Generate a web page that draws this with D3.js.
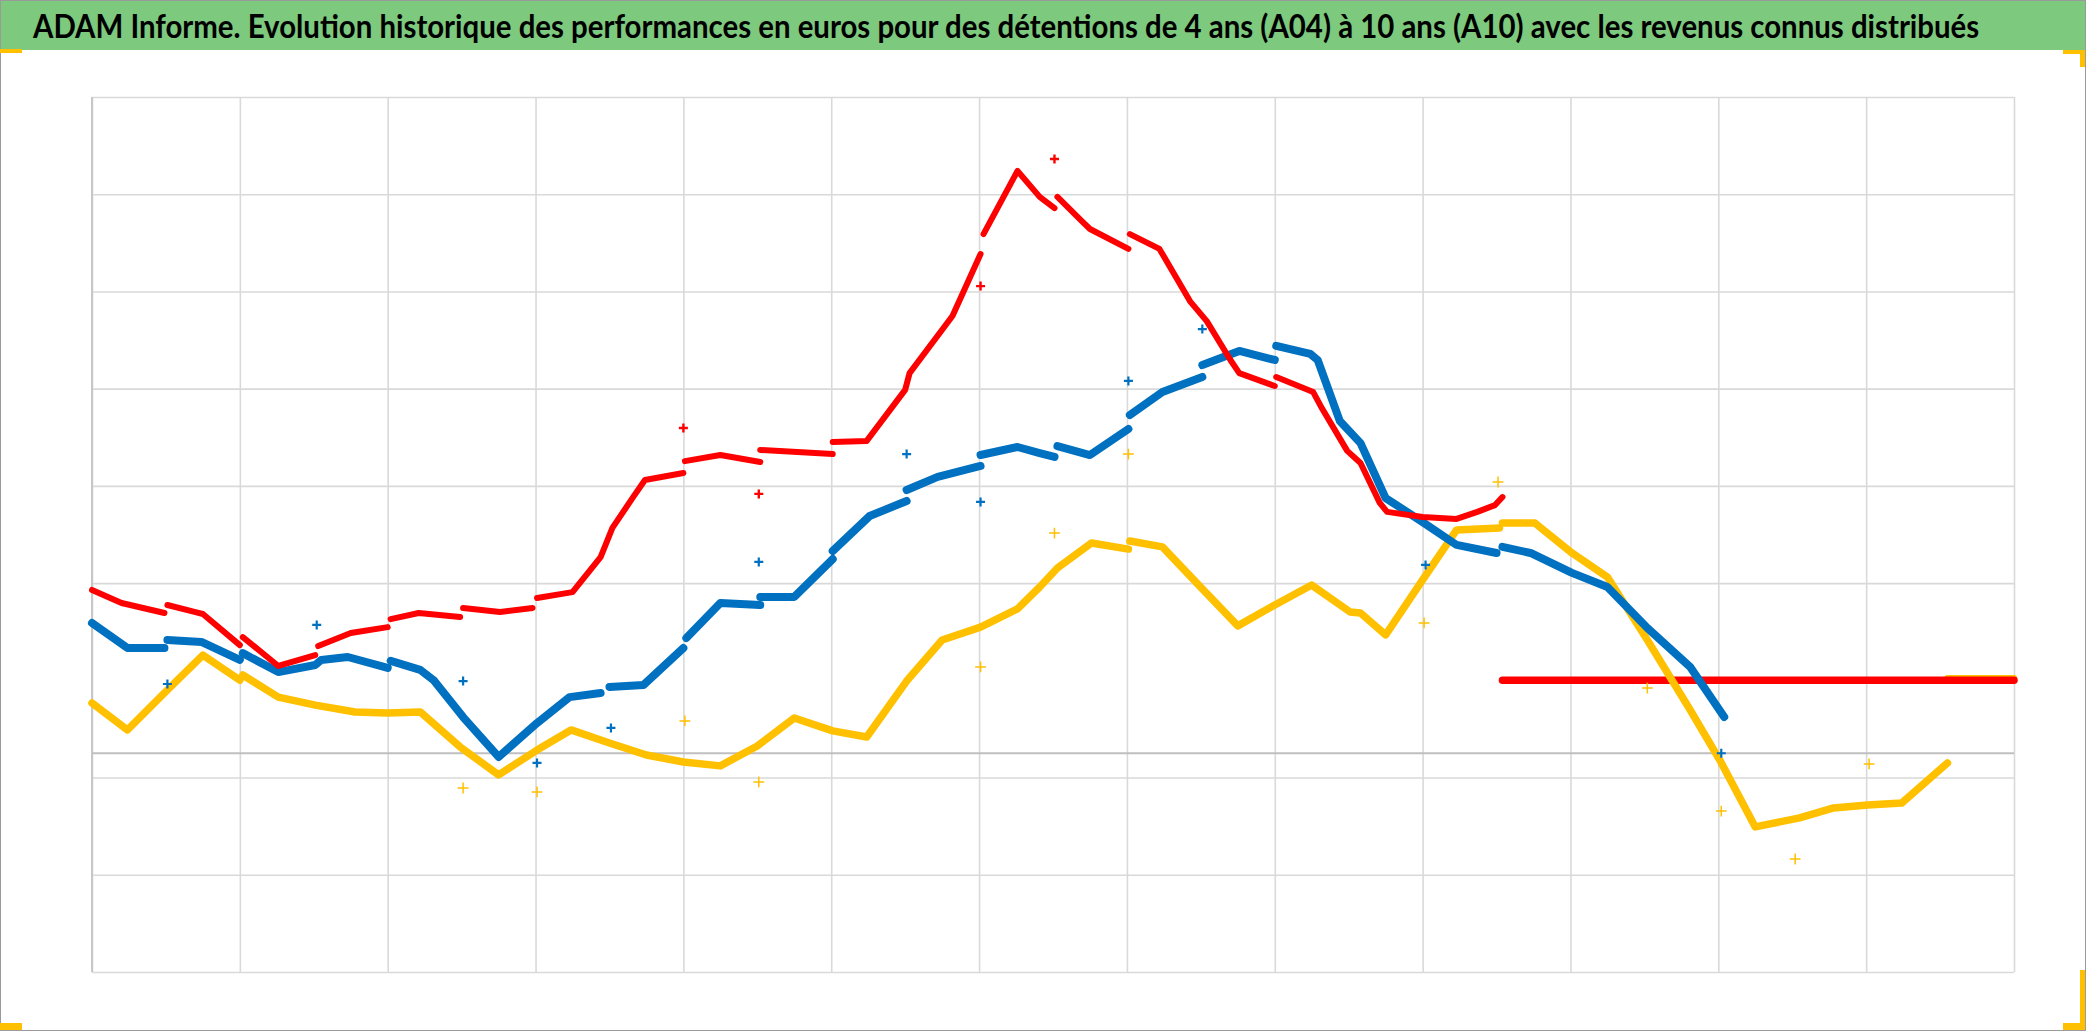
<!DOCTYPE html>
<html><head><meta charset="utf-8">
<script src="https://cdn.jsdelivr.net/npm/d3@7"></script>
<style>html,body{margin:0;padding:0;background:#fff;overflow:hidden}</style>
</head><body><svg id="c" width="2086" height="1031"></svg>
<script>
const titleText = "ADAM Informe. Evolution historique des performances en euros pour des détentions de 4 ans (A04) à 10 ans (A10) avec les revenus connus distribués";

const xGrid = [0,1,2,3,4,5,6,7,8,9,10,11,12,13];
const yGrid = [2700,2300,1900,1500,1100,700,-100,-500,-900];

// A10 (red) segments [x, value]
const redSegments = [
  [[0,672],[0.20,618],[0.49,577]],
  [[0.51,610],[0.70,581],[0.75,573],[1.00,445]],
  [[1.02,478],[1.26,359],[1.51,404]],
  [[1.53,441],[1.75,495],[2.00,519]],
  [[2.02,552],[2.21,577],[2.49,561]],
  [[2.51,598],[2.76,581],[2.98,598]],
  [[3.01,639],[3.25,663],[3.44,807],[3.52,927],[3.66,1054],[3.74,1124],[4.00,1153]],
  [[4.01,1202],[4.25,1227],[4.52,1198]],
  [[4.52,1248],[5.01,1231]],
  [[5.01,1281],[5.24,1285],[5.50,1495],[5.53,1564],[5.82,1799],[6.01,2054]],
  [[6.03,2136],[6.26,2396],[6.41,2289],[6.51,2243]],
  [[6.53,2289],[6.70,2186],[6.75,2157],[7.01,2075]],
  [[7.02,2136],[7.22,2075],[7.43,1857],[7.54,1778],[7.70,1618],[7.76,1564],[8.00,1511]],
  [[8.01,1548],[8.26,1486],[8.31,1429],[8.49,1244],[8.58,1194],[8.71,1030],[8.76,993],[9.00,972],[9.23,964],[9.37,993],[9.49,1021],[9.54,1054]]
];
const redFlat = [[9.54,300],[13,300]];
const redOutliers = [[4.00,1338],[4.51,1067],[6.01,1922],[6.51,2445]];

// A07 (blue) segments
const blueSegments = [
  [[0,536],[0.24,433],[0.49,433]],
  [[0.51,466],[0.74,458],[1.00,384]],
  [[1.02,412],[1.26,334],[1.51,363],[1.55,384],[1.73,396],[2.00,351]],
  [[2.02,380],[2.22,343],[2.31,301],[2.51,149],[2.75,-15],[3.01,124],[3.23,231],[3.44,248]],
  [[3.50,273],[3.73,281],[4.00,433]],
  [[4.02,474],[4.25,618],[4.52,610]],
  [[4.52,643],[4.75,643],[5.01,799]],
  [[5.01,832],[5.26,976],[5.51,1038]],
  [[5.51,1083],[5.72,1137],[6.01,1182]],
  [[6.01,1227],[6.26,1260],[6.41,1235],[6.51,1219]],
  [[6.53,1264],[6.75,1227],[7.01,1334]],
  [[7.02,1392],[7.24,1486],[7.51,1548]],
  [[7.51,1597],[7.76,1655],[8.00,1618]],
  [[8.01,1676],[8.24,1643],[8.29,1618],[8.44,1367],[8.58,1276],[8.75,1050],[9.00,951],[9.23,857],[9.50,824]],
  [[9.54,849],[9.73,824],[10.01,742],[10.25,684],[10.52,515],[10.81,355],[11.04,149]]
];
const blueFlat = [[9.54,300],[13,300]];
const blueOutliers = [[0.51,285],[1.52,528],[2.51,297],[3.01,-40],[3.51,104],[4.51,787],[5.51,1231],[6.01,1034],[7.01,1532],[7.51,1745],[9.02,775],[11.02,0]];

// A04 (yellow) segments
const yellowSegments = [
  [[0,207],[0.24,96],[0.49,248],[0.75,404],[1.00,301]],
  [[1.02,322],[1.26,231],[1.51,198],[1.78,170],[2.00,166],[2.22,170],[2.49,26],[2.75,-89],[3.01,13],[3.24,96],[3.50,42],[3.75,-7],[4.00,-36],[4.25,-52],[4.50,30],[4.75,145],[5.01,92],[5.24,67],[5.51,297],[5.75,466],[6.01,519],[6.26,594],[6.41,684],[6.53,762],[6.76,865],[7.01,840]],
  [[7.02,873],[7.24,849],[7.51,676],[7.75,524],[8.00,610],[8.25,692],[8.51,581],[8.58,577],[8.75,487],[9.00,713],[9.23,919],[9.52,927]],
  [[9.54,947],[9.76,947],[10.01,824],[10.25,725],[10.52,466],[10.81,178],[11.01,-28],[11.25,-303],[11.55,-266],[11.78,-225],[12.01,-213],[12.24,-205],[12.55,-40]]
];
const yellowFlat = [[12.55,309],[13,309]];
const yellowOutliers = [[2.51,-143],[3.01,-159],[4.01,133],[4.51,-118],[6.01,355],[6.51,906],[7.01,1231],[9.01,536],[9.51,1116],[10.52,268],[11.02,-238],[11.52,-435],[12.02,-44]];

const W = 2086, H = 1031;
const plot = {left: 92, right: 2014, top: 97, bottom: 972};
const svg = d3.select("#c");

svg.append("rect").attr("width", W).attr("height", H).attr("fill", "#fff");

const x = d3.scaleLinear().domain([0, 13]).range([plot.left, plot.right]);
const y = d3.scaleLinear().domain([-900, 2700]).range([plot.bottom, plot.top]);

// gridlines
const gx = svg.append("g").attr("transform", `translate(0,${plot.bottom})`)
  .call(d3.axisBottom(x).tickValues(xGrid).tickSize(-(plot.bottom - plot.top)).tickFormat(""));
gx.select(".domain").remove();
gx.selectAll("line").attr("stroke", "#d9d9d9").attr("stroke-width", 1.6);

const gy = svg.append("g").attr("transform", `translate(${plot.left},0)`)
  .call(d3.axisLeft(y).tickValues(yGrid).tickSize(-(plot.right - plot.left)).tickFormat(""));
gy.select(".domain").remove();
gy.selectAll("line").attr("stroke", "#d9d9d9").attr("stroke-width", 1.6);

// left axis
svg.append("line").attr("x1", x(0)).attr("x2", x(0)).attr("y1", plot.top).attr("y2", plot.bottom)
  .attr("stroke", "#c4c4c4").attr("stroke-width", 1.8);
// zero axis
svg.append("line").attr("x1", x(0)).attr("x2", x(13)).attr("y1", y(0)).attr("y2", y(0))
  .attr("stroke", "#bfbfbf").attr("stroke-width", 1.8);

const line = d3.line().x(d => x(d[0])).y(d => y(d[1]));
const plus = "M-4.5,0H4.5M0,-4.5V4.5";

function drawSeries(segs, color, width) {
  svg.append("g").selectAll("path").data(segs).join("path")
    .attr("d", line).attr("fill", "none").attr("stroke", color)
    .attr("stroke-width", width).attr("stroke-linejoin", "round").attr("stroke-linecap", "round");
}
function drawOutliers(pts, color, sw, size) {
  svg.append("g").selectAll("path").data(pts).join("path")
    .attr("transform", d => `translate(${x(d[0])},${y(d[1])}) scale(${size})`)
    .attr("d", plus).attr("fill", "none").attr("stroke", color).attr("stroke-width", sw / size);
}

const RED = "#ff0000", BLUE = "#0070c0", YEL = "#ffc000";

drawSeries([yellowFlat], YEL, 6.5);
drawSeries([blueFlat], BLUE, 6);
drawSeries([redFlat], RED, 7.5);

drawSeries(yellowSegments, YEL, 7.5);
drawOutliers(yellowOutliers, YEL, 1.5, 1.2);
drawSeries(blueSegments, BLUE, 8);
drawOutliers(blueOutliers, BLUE, 2.2, 1);
drawSeries(redSegments, RED, 6);
drawOutliers(redOutliers, RED, 2.4, 1);

// title bar
svg.append("rect").attr("x", 0).attr("y", 0).attr("width", W).attr("height", 50).attr("fill", "#7dc97e");
const title = svg.append("text").attr("x", 0).attr("y", 0)
  .attr("font-family", "Lato, 'Open Sans', sans-serif").attr("font-weight", 700)
  .attr("font-size", 32).attr("fill", "#000")
  .text(titleText);
const natural = title.node().getComputedTextLength();
title.attr("transform", `translate(33,38) scale(${1947 / natural},1)`);

// frame
svg.append("rect").attr("x", 0.5).attr("y", 0.5).attr("width", W - 1).attr("height", H - 1)
  .attr("fill", "none").attr("stroke", "#9a9a9a").attr("stroke-width", 1);

// yellow corner marks
const marks = [
  [0, 49, 22, 4], [2063, 50, 22, 4], [2080, 50, 5, 17],
  [2080, 970, 5, 60], [2063, 1023, 22, 7], [0, 1023, 22, 7]
];
svg.append("g").selectAll("rect").data(marks).join("rect")
  .attr("x", d => d[0]).attr("y", d => d[1]).attr("width", d => d[2]).attr("height", d => d[3])
  .attr("fill", YEL);
</script></body></html>
